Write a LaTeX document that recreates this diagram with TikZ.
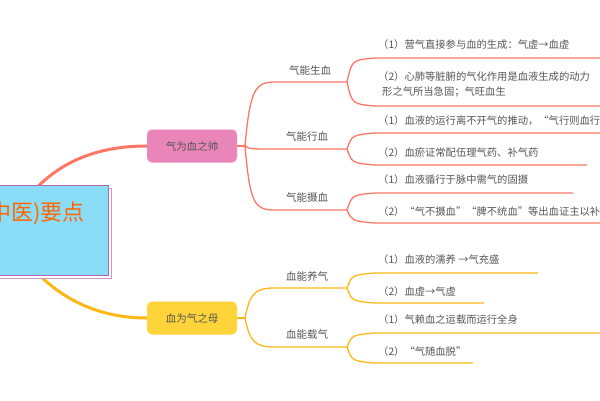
\documentclass[tikz,border=0pt]{standalone}
\usepackage{fontspec}
\newfontfamily\cjk{Noto Sans CJK SC}
\definecolor{rl}{HTML}{FF7665}
\definecolor{yl}{HTML}{FDB813}
\definecolor{pk}{HTML}{E985B8}
\definecolor{yf}{HTML}{FFD43B}
\definecolor{cb}{HTML}{8BDCF7}
\definecolor{tx}{HTML}{555555}
\begin{document}
\begin{tikzpicture}[x=1pt,y=-1pt,
  leaf/.style={anchor=west,inner sep=0,font=\cjk\fontsize{10.3}{15}\selectfont,text=tx,align=left},
  sub/.style={anchor=center,inner sep=0,font=\cjk\fontsize{10.5}{12}\selectfont,text=tx},
  rln/.style={rl,line width=1.3pt},
  yln/.style={yl,line width=1.3pt},
  mid/.style={rounded corners=5pt,minimum width=90,minimum height=33,font=\cjk\fontsize{10.5}{12}\selectfont,text=tx,inner sep=0}]
\useasboundingbox (0,0) rectangle (600,400);
\clip (0,0) rectangle (600,400);
% main branches
\node[mid,draw=pk!60,fill=pk] (a) at (192,146) {气为血之帅};
\node[mid,draw=yf!60,fill=yf] (b) at (192,318) {血为气之母};
\coordinate (c1) at (30,195);
\coordinate (c2) at (30,265);
\draw[rl,line width=3pt] (c1) .. controls (60,160) and (100,146) .. (a.west);
\draw[yl,line width=3pt] (c2) .. controls (60,300) and (100,318) .. (b.west);
% central
\draw[draw=violet!40,fill=white] (-10,188) rectangle (111,278);
\node[draw=violet!60,fill=cb,minimum width=118,minimum height=90,inner sep=0,anchor=north east] (c) at (108,185) {};
\node[anchor=east,inner sep=0,font=\cjk\fontsize{22}{24}\selectfont,text=orange!80!red] (ct) at (85,213) {(中医)要点};
% red sub
\coordinate (sa) at (245,146);
\draw[rln] (a.east) -- (sa);
\node[sub] (s1) at (310,70) {气能生血};
\node[sub] (s2) at (307,137) {气能行血};
\node[sub] (s3) at (307,197) {气能摄血};
\coordinate (e1) at (347,82); \coordinate (e2) at (347,149); \coordinate (e3) at (347,210);
\draw[rln] (sa) .. controls (250,90) and (255,82) .. (275,82) -- (e1);
\draw[rln] (sa) .. controls (250,149) .. (275,149) -- (e2);
\draw[rln] (sa) .. controls (250,205) and (255,210) .. (275,210) -- (e3);
\draw[rln] (e1) .. controls (352,60) .. (375,58) -- (600,58);
\draw[rln] (e1) .. controls (352,104) .. (375,106) -- (600,106);
\draw[rln] (e2) .. controls (352,135) .. (375,133) -- (600,133);
\draw[rln] (e2) .. controls (352,163) .. (375,165) -- (587,165);
\draw[rln] (e3) .. controls (352,195) .. (375,193) -- (573,193);
\draw[rln] (e3) .. controls (352,221) .. (375,223) -- (600,223);
\node[leaf] (l1) at (378,45) {（1）营气直接参与血的生成：气虚→血虚};
\node[leaf] (l2) at (378,84) {（2）心肺等脏腑的气化作用是血液生成的动力\\\hspace*{4pt}形之气所当急固；气旺血生};
\node[leaf] (l3) at (378,121) {（1）血液的运行离不开气的推动，“气行则血行”};
\node[leaf] (l4) at (378,153) {（2）血瘀证常配伍理气药、补气药};
\node[leaf] (l5) at (378,180) {（1）血液循行于脉中需气的固摄};
\node[leaf] (l6) at (378,212) {（2）“气不摄血”“脾不统血”等出血证主以补气};
% yellow sub
\coordinate (sb) at (245,318);
\draw[yln] (b.east) -- (sb);
\node[sub] (t1) at (307,276) {血能养气};
\node[sub] (t2) at (307,335) {血能载气};
\coordinate (f1) at (347,288); \coordinate (f2) at (347,347);
\draw[yln] (sb) .. controls (250,293) and (255,288) .. (275,288) -- (f1);
\draw[yln] (sb) .. controls (250,342) and (255,347) .. (275,347) -- (f2);
\draw[yln] (f1) .. controls (352,275) .. (375,273) -- (538,273);
\draw[yln] (f1) .. controls (352,301) .. (375,303) -- (484,303);
\draw[yln] (f2) .. controls (352,335) .. (375,333) -- (600,333);
\draw[yln] (f2) .. controls (352,361) .. (375,363) -- (473,363);
\node[leaf] (m1) at (378,260) {（1）血液的濡养 →气充盛};
\node[leaf] (m2) at (378,292) {（2）血虚→气虚};
\node[leaf] (m3) at (378,320) {（1）气赖血之运载而运行全身};
\node[leaf] (m4) at (378,352) {（2）“气随血脱”};
\end{tikzpicture}
\end{document}
